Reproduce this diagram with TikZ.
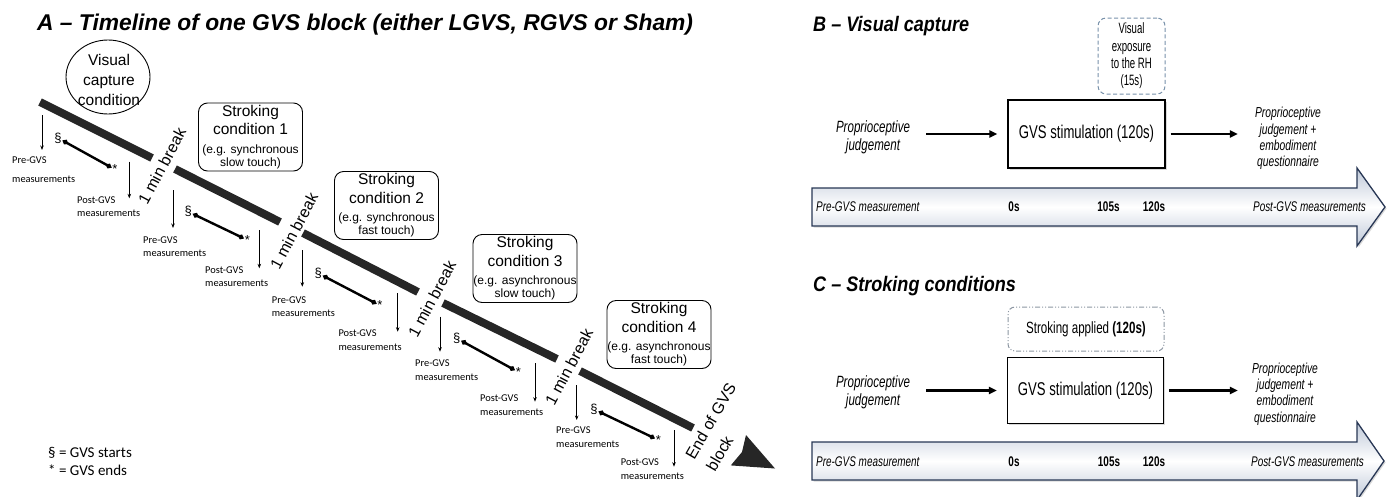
\documentclass[tikz,border=0pt]{standalone}
\usepackage{fontspec}
\setmainfont{Liberation Sans}
\newfontfamily\calib{Carlito}
\newfontfamily\nar[FakeStretch=0.71]{Liberation Sans}
\newfontfamily\narx[FakeStretch=0.64]{Liberation Sans}
\newfontfamily\ttl[FakeStretch=0.86]{Liberation Sans}
\usetikzlibrary{arrows.meta,shapes.geometric,shadows}
\definecolor{navy}{RGB}{40,55,85}
\definecolor{arrfill}{RGB}{190,200,216}
\definecolor{dashblue}{RGB}{120,145,170}
\definecolor{dashgray}{RGB}{140,150,162}
\newcommand\smallf{\fontsize{12}{13}\selectfont}
\tikzset{
  bar/.style={line width=8pt, black!85},
  meas/.style={line width=0.7pt, -{Stealth[length=4.5pt,width=3.5pt]}},
  mlabel/.style={font=\calib\fontsize{10.4}{13.5}\selectfont, align=left, inner sep=0pt, text=black, anchor=west},
  gvsbar/.style={line width=2.4pt, {Diamond[length=7pt,width=5.5pt]}-{Diamond[length=7pt,width=5.5pt]}},
  symb/.style={font=\fontsize{13}{13}\selectfont, inner sep=0.5pt},
  brk/.style={font=\fontsize{16}{24}\selectfont, inner sep=0pt},
  condbox/.style={draw, rounded corners=9pt, line width=0.9pt, minimum width=104pt, minimum height=68pt, inner sep=0pt, align=center, font=\fontsize{15.5}{18.5}\selectfont},
  gvsbox/.style={draw, fill=white, line width=1.2pt, minimum width=157pt, minimum height=68pt, inner sep=0pt, font=\nar\fontsize{18.5}{22}\selectfont, drop shadow={shadow xshift=1.5pt, shadow yshift=-1.5pt, opacity=0.3}},
  ptext/.style={align=center, inner sep=0pt, font=\nar\itshape\fontsize{16.3}{17.7}\selectfont},
  rtext/.style={align=center, inner sep=0pt, font=\nar\itshape\fontsize{14.5}{16.2}\selectfont},
  conn/.style={line width=2.2pt, -{Triangle[length=8pt,width=7pt]}},
  bigarr/.style={draw=navy, line width=1.3pt, top color=arrfill, bottom color=arrfill, middle color=white, drop shadow={shadow xshift=1.5pt, shadow yshift=-1.5pt, opacity=0.3}},
  atext/.style={inner sep=0pt, font=\nar\itshape\fontsize{14}{16}\selectfont},
  anum/.style={inner sep=0pt, font=\nar\bfseries\fontsize{14}{16}\selectfont},
  ptitle/.style={anchor=base west, inner sep=0pt, font=\ttl\bfseries\itshape\fontsize{21}{24}\selectfont}
}
\begin{document}
\begin{tikzpicture}[x=1pt,y=-1pt]
\useasboundingbox (0,0) rectangle (1392,496);

% ---------------- Panel A ----------------
\node[anchor=base west, inner sep=0pt, font=\bfseries\itshape\fontsize{22.8}{28}\selectfont] (tA) at (37,30) {A – Timeline of one GVS block (either LGVS, RGVS or Sham)};

% timeline bars
\coordinate (t1a) at (40,102);  \coordinate (t1b) at (152,158);
\coordinate (t2a) at (175,169); \coordinate (t2b) at (280,222);
\coordinate (t3a) at (303,233); \coordinate (t3b) at (418,292);
\coordinate (t4a) at (443,303); \coordinate (t4b) at (557,359);
\coordinate (t5a) at (580,371); \coordinate (t5b) at (693,428);
\draw[bar] (t1a) -- (t1b);
\draw[bar] (t2a) -- (t2b);
\draw[bar] (t3a) -- (t3b);
\draw[bar] (t4a) -- (t4b);
\draw[bar] (t5a) -- (t5b);
\fill[black!85] (746,435) -- (775,468.5) -- (730.8,465.4) -- (742,452) -- cycle;

% breaks
\node[brk, rotate=62] (br1) at (162,166) {1 min break};
\node[brk, rotate=62] (br2) at (294,231) {1 min break};
\node[brk, rotate=62] (br3) at (432,299) {1 min break};
\node[brk, rotate=62] (br4) at (569,367) {1 min break};
\node[brk, rotate=60, align=left] (endb) at (721,427) {End of GVS\\block};

% visual capture condition
\node[draw, ellipse, line width=0.9pt, minimum width=84pt, minimum height=74pt, inner sep=0pt] (vc) at (108,77) {};
\node[align=center, inner sep=0pt, font=\fontsize{15.5}{20}\selectfont] (vct) at (109,80) {Visual\\capture\\condition};

% stroking condition boxes
\node[condbox] (sc1) at (250.5,137) {Stroking\\condition 1\\{\smallf (e.g. synchronous}\\[-5.5pt]{\smallf slow touch)}};
\node[condbox] (sc2) at (386.5,205.5) {Stroking\\condition 2\\{\smallf (e.g. synchronous}\\[-5.5pt]{\smallf fast touch)}};
\node[condbox] (sc3) at (525,268.5) {Stroking\\condition 3\\{\smallf (e.g. asynchronous}\\[-5.5pt]{\smallf slow touch)}};
\node[condbox] (sc4) at (659,334.5) {Stroking\\condition 4\\{\smallf (e.g. asynchronous}\\[-5.5pt]{\smallf fast touch)}};

% group 1
\node[mlabel] (pre1) at (12,169.5) {Pre-GVS\\[5pt]measurements};
\node[mlabel] (post1) at (77,206.7) {Post-GVS\\measurements};
\coordinate (p1a) at (42,115);    \coordinate (p1b) at (42,150);
\coordinate (q1a) at (129.3,161.7); \coordinate (q1b) at (129.3,198.3);
\draw[meas] (p1a) -- (p1b);
\draw[meas] (q1a) -- (q1b);
\node[symb] (s1) at (58,138) {§};
\node[symb] (e1) at (115,169.5) {*};
\draw[gvsbar] (s1) -- (e1);

% group 2
\node[mlabel] (pre2) at (143,246.7) {Pre-GVS\\measurements};
\node[mlabel] (post2) at (205,276.7) {Post-GVS\\measurements};
\coordinate (p2a) at (173,190);   \coordinate (p2b) at (173,228);
\coordinate (q2a) at (259.3,230); \coordinate (q2b) at (259.3,268.3);
\draw[meas] (p2a) -- (p2b);
\draw[meas] (q2a) -- (q2b);
\node[symb] (s2) at (188.3,211.7) {§};
\node[symb] (e2) at (247.3,240) {*};
\draw[gvsbar] (s2) -- (e2);

% group 3
\node[mlabel] (pre3) at (271.7,306.7) {Pre-GVS\\measurements};
\node[mlabel] (post3) at (338.3,340.3) {Post-GVS\\measurements};
\coordinate (p3a) at (302.3,250);   \coordinate (p3b) at (302.3,286.7);
\coordinate (q3a) at (397.7,293.3); \coordinate (q3b) at (397.7,331.7);
\draw[meas] (p3a) -- (p3b);
\draw[meas] (q3a) -- (q3b);
\node[symb] (s3) at (318.3,273.3) {§};
\node[symb] (e3) at (380,305.5) {*};
\draw[gvsbar] (s3) -- (e3);

% group 4
\node[mlabel] (pre4) at (415,370) {Pre-GVS\\measurements};
\node[mlabel] (post4) at (480,405) {Post-GVS\\measurements};
\coordinate (p4a) at (440,316.7); \coordinate (p4b) at (440,351.7);
\coordinate (q4a) at (535,363.3); \coordinate (q4b) at (535,401.7);
\draw[meas] (p4a) -- (p4b);
\draw[meas] (q4a) -- (q4b);
\node[symb] (s4) at (456.7,338.3) {§};
\node[symb] (e4) at (518.3,372) {*};
\draw[gvsbar] (s4) -- (e4);

% group 5
\node[mlabel] (pre5) at (556,437) {Pre-GVS\\measurements};
\node[mlabel] (post5) at (620.7,469.3) {Post-GVS\\measurements};
\coordinate (p5a) at (576.7,385); \coordinate (p5b) at (576.7,420);
\coordinate (q5a) at (674,430);   \coordinate (q5b) at (674,466.7);
\draw[meas] (p5a) -- (p5b);
\draw[meas] (q5a) -- (q5b);
\node[symb] (s5) at (594,409.3) {§};
\node[symb] (e5) at (658.3,440) {*};
\draw[gvsbar] (s5) -- (e5);

% legend
\node[anchor=west, align=left, inner sep=0pt, font=\calib\fontsize{15}{18}\selectfont] (leg) at (48,461.7) {§ = GVS starts\\* = GVS ends};

% ---------------- Panel B ----------------
\node[ptitle] (tB) at (813,31.7) {B – Visual capture};
\draw[bigarr] (812,188) -- (1357,188) -- (1357,168) -- (1385,207) -- (1357,246) -- (1357,226) -- (812,226) -- cycle;
\node[draw=dashblue, dash pattern=on 4pt off 2.5pt, rounded corners=8pt, line width=1pt, minimum width=67pt, minimum height=76pt, inner sep=0pt, align=center, font=\narx\fontsize{15}{17.3}\selectfont] (vex) at (1131.5,56) {Visual\\exposure\\to the RH\\(15s)};
\node[gvsbox] (gB) at (1086.5,134) {GVS stimulation (120s)};
\node[ptext] (pjB) at (873,137) {Proprioceptive\\judgement};
\node[rtext] (rjB) at (1288,138.5) {Proprioceptive\\judgement +\\embodiment\\questionnaire};
\draw[conn, shorten <=16pt, shorten >=10pt] (pjB.east |- gB.west) -- (gB.west);
\draw[conn, shorten <=5pt, shorten >=17pt] (gB.east) -- (gB.east -| rjB.west);
\node[atext, anchor=west] (aB1) at (816,206.7) {Pre-GVS measurement};
\node[anum] (aB2) at (1014,206.7) {0s};
\node[anum] (aB3) at (1108.5,206.7) {105s};
\node[anum] (aB4) at (1154,206.7) {120s};
\node[atext, anchor=east] (aB5) at (1366,206.7) {Post-GVS measurements};

% ---------------- Panel C ----------------
\node[ptitle] (tC) at (813,291) {C – Stroking conditions};
\draw[bigarr] (812,442) -- (1357,442) -- (1357,422) -- (1384,461) -- (1357,500) -- (1357,480) -- (812,480) -- cycle;
\node[draw=dashgray, dash pattern=on 5pt off 2pt on 1pt off 2pt on 1pt off 2pt, rounded corners=7pt, line width=1pt, minimum width=156pt, minimum height=44pt, inner sep=0pt, font=\nar\fontsize{16.3}{18}\selectfont] (sap) at (1086,329) {Stroking applied {\bfseries (120s)}};
\node[gvsbox, minimum width=156pt, minimum height=66pt] (gC) at (1085.5,390.5) {GVS stimulation (120s)};
\node[ptext] (pjC) at (873,392) {Proprioceptive\\judgement};
\node[rtext] (rjC) at (1285,394) {Proprioceptive\\judgement +\\embodiment\\questionnaire};
\draw[conn, shorten <=16pt, shorten >=10pt] (pjC.east |- gC.west) -- (gC.west);
\draw[conn, shorten <=5pt, shorten >=14pt] (gC.east) -- (gC.east -| rjC.west);
\node[atext, anchor=west] (aC1) at (816,462) {Pre-GVS measurement};
\node[anum] (aC2) at (1014,462) {0s};
\node[anum] (aC3) at (1109,462) {105s};
\node[anum] (aC4) at (1154,462) {120s};
\node[atext, anchor=east] (aC5) at (1364,462) {Post-GVS measurements};
\end{tikzpicture}
\end{document}
